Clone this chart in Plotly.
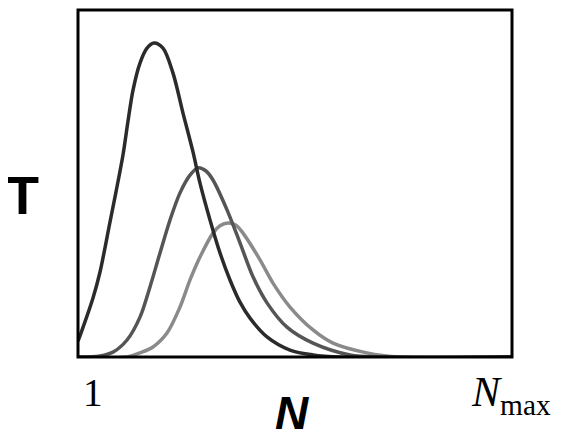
import plotly.graph_objects as go

# Curve samples (N from 1 to N_max=100, T normalised 0..1)
n_dark = [1.00, 1.68, 4.42, 6.02, 8.30, 9.67, 11.26, 12.41, 13.55, 15.14, 16.74, 18.34, 20.39,
          22.67, 24.95, 27.23, 28.83, 31.11, 33.39, 35.67, 37.95, 40.24, 44.11, 49.36, 54.61, 60.77, 100]
t_dark = [0.046, 0.069, 0.170, 0.245, 0.389, 0.476, 0.582, 0.680, 0.769, 0.847, 0.890, 0.905, 0.890,
          0.818, 0.703, 0.591, 0.501, 0.395, 0.300, 0.222, 0.158, 0.112, 0.058, 0.020, 0.006, 0.0, 0.0]

n_mid = [1.00, 6.02, 8.98, 12.18, 15.14, 17.42, 19.71, 21.99, 24.27, 26.55, 28.37, 30.20, 31.79,
         34.99, 37.95, 40.92, 44.11, 48.67, 54.61, 63.05, 70.58, 100]
t_mid = [0.0, 0.003, 0.014, 0.049, 0.115, 0.202, 0.300, 0.395, 0.473, 0.524, 0.545, 0.536, 0.510,
         0.424, 0.329, 0.231, 0.156, 0.086, 0.040, 0.006, 0.0, 0.0]

n_light = [1.00, 12.18, 15.14, 18.11, 21.30, 24.27, 26.55, 28.83, 31.79, 33.39, 35.22, 37.04, 38.64,
           42.52, 45.48, 49.36, 54.61, 59.17, 66.92, 74.45, 100]
t_light = [0.0, 0.0, 0.012, 0.029, 0.069, 0.144, 0.222, 0.288, 0.357, 0.378, 0.386, 0.380, 0.357,
           0.280, 0.213, 0.144, 0.078, 0.040, 0.012, 0.0, 0.0]

series = [
    (n_light, t_light, "#8a8a8a"),
    (n_mid, t_mid, "#555555"),
    (n_dark, t_dark, "#2b2b2b"),
]

fig = go.Figure()
for xs, ys, col in series:
    fig.add_trace(go.Scatter(x=xs, y=ys, mode="lines",
                             line=dict(color=col, width=3.5, shape="spline", smoothing=0.9),
                             hoverinfo="skip", showlegend=False))

fig.update_layout(
    width=557, height=435,
    margin=dict(l=70, r=53, t=2, b=86),
    paper_bgcolor="white", plot_bgcolor="white",
    xaxis=dict(range=[1, 100], showgrid=False, zeroline=False, showticklabels=False, ticks=""),
    yaxis=dict(range=[0, 1], showgrid=False, zeroline=False, showticklabels=False, ticks=""),
    shapes=[dict(type="rect", xref="paper", yref="paper", x0=0, y0=0, x1=1, y1=1,
                 line=dict(color="black", width=3), layer="above")],
    annotations=[
        dict(text="<b>T</b>", xref="paper", yref="paper", x=-0.127, y=0.466,
             showarrow=False, font=dict(family="Liberation Sans, Arial", size=54, color="black"),
             xanchor="center", yanchor="middle"),
        dict(text="<b><i>N</i></b>", xref="paper", yref="paper", x=0.493, y=-0.161,
             showarrow=False, font=dict(family="Liberation Sans, Arial", size=46, color="black"),
             xanchor="center", yanchor="middle"),
        dict(text="1", xref="paper", yref="paper", x=0.035, y=-0.101,
             showarrow=False, font=dict(family="Liberation Serif, Times New Roman", size=39, color="black"),
             xanchor="center", yanchor="middle"),
        dict(text="<i>N</i><sub>max</sub>", xref="paper", yref="paper", x=0.997, y=-0.11,
             showarrow=False, font=dict(family="Liberation Serif, Times New Roman", size=42, color="black"),
             xanchor="center", yanchor="middle"),
    ],
)

fig.write_html("out.html")
